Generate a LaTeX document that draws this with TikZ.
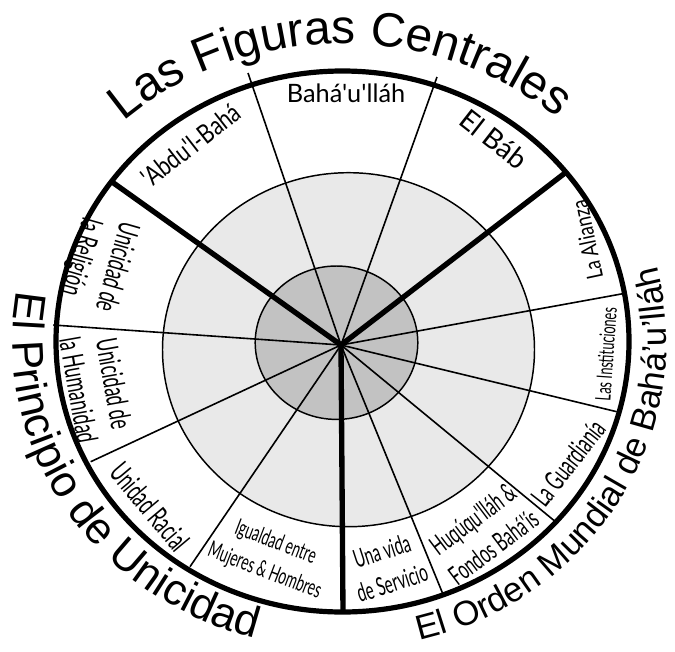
\documentclass[tikz,border=0pt]{standalone}
\usepackage{fontspec}
\setmainfont{Liberation Sans}
\newfontfamily\labfont{Lato}
\newfontfamily\semifont[FakeStretch=0.8]{Lato}
\newfontfamily\condfont[FakeStretch=0.6]{Lato}
\usetikzlibrary{decorations.text}
\newcommand\topfnt{\fontsize{36}{36}\selectfont}
\newcommand\leftfnt{\fontsize{33}{33}\selectfont}
\newcommand\rightfnt{\fontsize{26}{26}\selectfont}
\definecolor{lightfill}{HTML}{E9E9E9}
\definecolor{darkfill}{HTML}{C2C2C2}
\tikzset{
  ringline/.style={line width=1.1pt},
  thinspoke/.style={line width=1.2pt},
  thickspoke/.style={line width=4pt},
  outerline/.style={line width=3.9pt},
  lab/.style={inner sep=0pt, align=center, font=\labfont\fontsize{#1}{#1}\selectfont},
  semi/.style={inner sep=0pt, align=center, font=\semifont\fontsize{#1}{#1}\selectfont},
  cond/.style n args={2}{inner sep=0pt, align=center, font=\condfont\fontsize{#1}{#2}\selectfont},
}
\begin{document}
\begin{tikzpicture}[x=0.75pt,y=0.75pt]
\useasboundingbox (0,0) rectangle (675,-651);
% rings
\fill[lightfill] (348.5,-349.7) ellipse [x radius=186, y radius=177];
\draw[ringline] (348.5,-349.7) ellipse [x radius=186, y radius=177];
\fill[darkfill] (336.5,-342.7) ellipse [x radius=81.3, y radius=76.7];
\draw[ringline] (336.5,-342.7) ellipse [x radius=81.3, y radius=76.7];
% spokes
\coordinate (c) at (341,-345);
\coordinate (e1) at (111.7,-181.7);
\coordinate (e2) at (248,-73);
\coordinate (e3) at (437,-77);
\coordinate (e4) at (566.7,-171.7);
\coordinate (e5) at (625,-293.3);
\coordinate (e6) at (616.7,-411.7);
\coordinate (e7) at (556.7,-522.7);
\coordinate (e8) at (443.3,-595);
\coordinate (e9) at (343,-612);
\coordinate (e10) at (190,-566.7);
\coordinate (e11) at (90.7,-461.7);
\coordinate (e12) at (53.3,-325);
\foreach \e in {e2,e3,e5,e6,e7,e8,e10,e11,e12} \draw[thinspoke] (c) -- (\e);
\foreach \e in {e1,e4,e9} \draw[thickspoke] (c) -- (\e);
% outer ring
\draw[outerline] (342.5,-341.5) ellipse [x radius=286.5, y radius=270.5];
% curved titles
\path[decorate, decoration={text along path, text align=center,
  text={|\topfnt|Las Figuras Centrales}}]
  (342.5,-341.5) ++(150:325 and 298) arc[start angle=150, end angle=31, x radius=325, y radius=298];
\path[decorate, decoration={text along path, text align=center,
  text={|\leftfnt|El Principio de Unicidad}}]
  (342.5,-341.5) ++(150:330 and 308) arc[start angle=150, end angle=274, x radius=330, y radius=308];
\path[decorate, decoration={text along path, text align=center,
  text={|\rightfnt|El Orden Mundial de Bahá'u'lláh}}]
  (342.5,-341.5) ++(270:324 and 308) arc[start angle=270, end angle=388.5, x radius=324, y radius=308];
% sector labels
\node[lab=19] (bahaullah) at (346,-93) {Bahá'u'lláh};
\node[lab=21, rotate=-38] (elbab) at (494,-139) {El Báb};
\node[semi=20, rotate=38] (abdulbaha) at (191,-145) {'Abdu'l-Bahá};
\node[semi=17, rotate=102] (alianza) at (587,-240) {La Alianza};
\node[cond={16}{19}, rotate=86] (instituciones) at (606,-354) {Las Instituciones};
\node[cond={21}{25}, rotate=52] (guardiania) at (568,-463) {La Guardianía};
\node[cond={20}{26}, rotate=37] (huququ) at (483,-533) {Huqúqu'lláh \&\\Fondos Bahá'ís};
\node[cond={19}{25}, rotate=18] (vida) at (387,-567) {Una vida\\de Servicio};
\node[cond={17}{23}, rotate=-21] (igualdad) at (270,-557) {Igualdad entre\\Mujeres \& Hombres};
\node[cond={22}{22}, rotate=-50] (racial) at (150,-507) {Unidad Racial};
\node[cond={22}{27}, rotate=-80] (humanidad) at (96.5,-387) {Unicidad de\\la Humanidad};
\node[cond={22}{28}, rotate=-106] (religion) at (98,-262) {Unicidad de\\la Religión};
\end{tikzpicture}
\end{document}
